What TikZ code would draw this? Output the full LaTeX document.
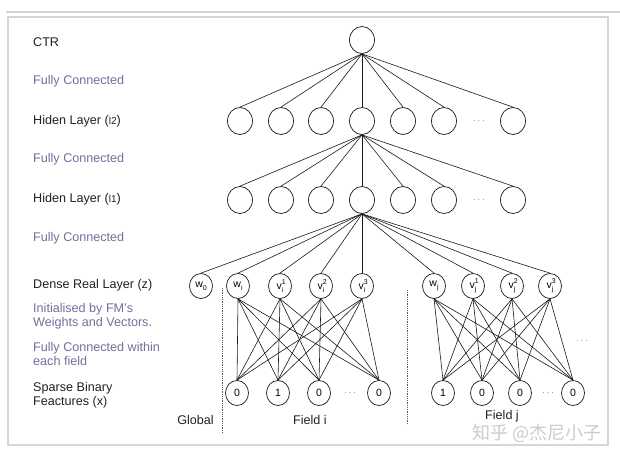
\documentclass[tikz,border=0pt]{standalone}
\usepackage{fontspec}
\setmainfont{Liberation Sans}
\newfontfamily\cjkf{Noto Sans CJK SC}
\usetikzlibrary{shapes.geometric}
\definecolor{fc}{HTML}{736F9E}
\definecolor{txt}{HTML}{222222}
\definecolor{frm}{HTML}{D6D6D6}
\newcommand{\scr}[1]{{\fontsize{7}{7}\selectfont #1}}
\newcommand{\vsym}[2]{v\rlap{\raisebox{0.95ex}{\scr{#2}}}\raisebox{-0.55ex}{\scr{#1}}}
\newcommand{\wsym}[1]{w\raisebox{-0.55ex}{\scr{#1}}}
\tikzset{
  hid/.style={draw=black!85, ellipse, minimum width=25pt, minimum height=27pt, inner sep=0pt, line width=0.75pt},
  den/.style={draw=black!85, ellipse, minimum width=23pt, minimum height=25pt, inner sep=0pt, line width=0.75pt, font=\fontsize{10.5}{11}\selectfont},
  lab/.style={anchor=west, text=txt, font=\fontsize{12.6}{15}\selectfont, align=left, inner sep=0pt},
  flab/.style={lab, text=fc},
  conn/.style={line width=0.6pt, black!90},
  dots/.style={text=gray, font=\fontsize{10}{10}\selectfont, inner sep=0pt},
  sep/.style={densely dotted, line width=0.8pt, gray!70!black},
}
\begin{document}
\begin{tikzpicture}[x=1pt,y=-1pt]
\useasboundingbox (0,0) rectangle (620,455);
\fill[white] (0,0) rectangle (620,455);
% frame
\draw[frm, line width=2pt] (6,12) -- (620,12);
\draw[frm, line width=1.5pt] (8,17) rectangle (608,445);

% left labels
\node[lab]  (tctr) at (33,42)  {CTR};
\node[flab] (tf1)  at (33,81)  {Fully Connected};
\node[lab]  (th2)  at (33,121) {Hiden Layer ({\fontsize{10}{10}\selectfont l2})};
\node[flab] (tf2)  at (33,159) {Fully Connected};
\node[lab]  (th1)  at (33,199) {Hiden Layer ({\fontsize{10}{10}\selectfont l1})};
\node[flab] (tf3)  at (33,238) {Fully Connected};
\node[lab]  (tdz)  at (33,285) {Dense Real Layer (z)};
\node[flab] (tini) at (33,316) {Initialised by FM's\\[-1.5pt]Weights and Vectors.};
\node[flab] (tfcw) at (33,354) {Fully Connected within\\[-1.5pt]each field};
\node[lab]  (tsb)  at (33,395) {Sparse Binary\\[-1.5pt]Feactures (x)};

% CTR
\node[hid] (ctr) at (362,40) {};
% hidden layer 2
\foreach \i/\x in {1/240,2/281,3/321,4/362,5/403,6/444,7/513}
  \node[hid] (a\i) at (\x,121) {};
\node[dots] (ad) at (479,121) {$\cdots$};
% hidden layer 1
\foreach \i/\x in {1/240,2/281,3/321,4/362,5/403,6/444,7/513}
  \node[hid] (b\i) at (\x,200) {};
\node[dots] (bd) at (479,200) {$\cdots$};

% dense layer
\node[den] (w0)  at (201,286) {\wsym{0}};
\node[den] (wi)  at (238,286) {\wsym{i}};
\node[den] (vi1) at (280,286) {\vsym{i}{1}};
\node[den] (vi2) at (321,286) {\vsym{i}{2}};
\node[den] (vi3) at (362,286) {\vsym{i}{3}};
\node[den] (wj)  at (434,286) {\wsym{j}};
\node[den] (vj1) at (473,286) {\vsym{j}{1}};
\node[den] (vj2) at (512,286) {\vsym{j}{2}};
\node[den] (vj3) at (550,286) {\vsym{j}{3}};

% sparse layer
\node[den] (si1) at (237,393) {0};
\node[den] (si2) at (278,393) {1};
\node[den] (si3) at (319,393) {0};
\node[dots] (sid) at (350,393) {$\cdots$};
\node[den] (si4) at (379,393) {0};
\node[den] (sj1) at (443,393) {1};
\node[den] (sj2) at (482,393) {0};
\node[den] (sj3) at (520,393) {0};
\node[dots] (sjd) at (548,393) {$\cdots$};
\node[den] (sj4) at (573,393) {0};
\node[dots] (rd) at (582,341) {$\cdots$};

% connections
\foreach \i in {1,...,7} \draw[conn] (ctr.south) -- (a\i.north);
\foreach \i in {1,...,7} \draw[conn] (a4.south) -- (b\i.north);
\foreach \n in {w0,wi,vi1,vi2,vi3,wj,vj1,vj2,vj3} \draw[conn] (b4.south) -- (\n.north);
\foreach \u in {wi,vi1,vi2,vi3} \foreach \d in {si1,si2,si3,si4} \draw[conn] (\u.south) -- (\d.north);
\foreach \u in {wj,vj1,vj2,vj3} \foreach \d in {sj1,sj2,sj3,sj4} \draw[conn] (\u.south) -- (\d.north);

% separators
\coordinate (s1t) at (222,288); \coordinate (s1b) at (222,433);
\coordinate (s2t) at (407,290); \coordinate (s2b) at (407,425);
\draw[sep] (s1t) -- (s1b);
\draw[sep] (s2t) -- (s2b);

% bottom labels
\node[lab, anchor=east] (tgl) at (214,420) {Global};
\node[lab, anchor=center] (tfi) at (310,420) {Field i};
\node[lab, anchor=center] (tfj) at (502,416) {Field j};
\node[anchor=center, text=gray!40, font=\cjkf\fontsize{18}{19}\selectfont, inner sep=0pt] (wm) at (537,433) {知乎 @杰尼小子};
\end{tikzpicture}
\end{document}
